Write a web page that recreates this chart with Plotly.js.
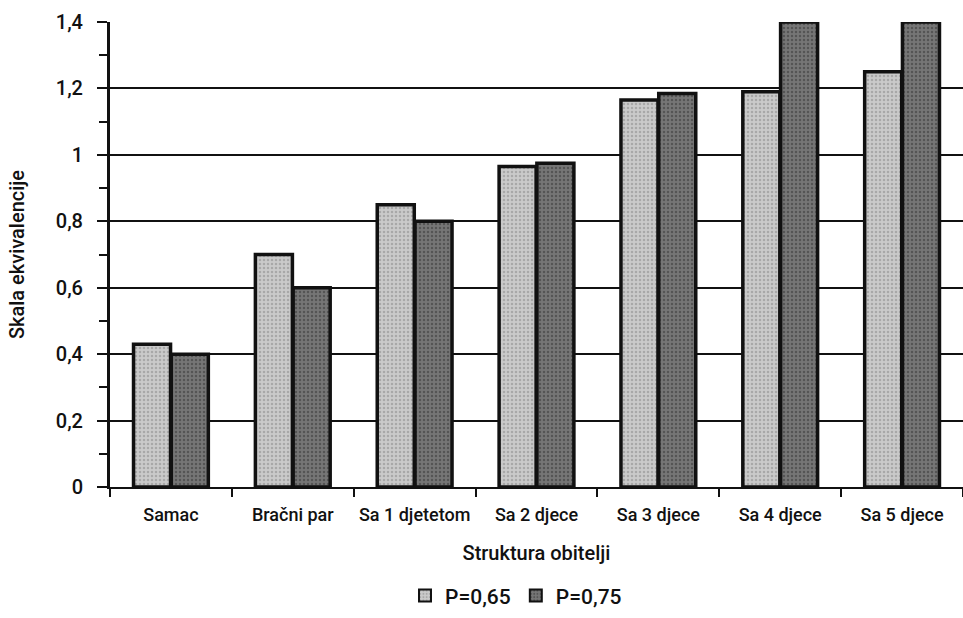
<!DOCTYPE html>
<html>
<head>
<meta charset="utf-8">
<script src="https://cdn.plot.ly/plotly-3.0.1.min.js"></script>
<style>html,body{margin:0;padding:0;background:#fff;}#chart{width:963px;height:618px;}</style>
</head>
<body>
<div id="chart"></div>
<script>
const categories = ["Samac", "Bračni par", "Sa 1 djetetom", "Sa 2 djece", "Sa 3 djece", "Sa 4 djece", "Sa 5 djece"];
const seriesNames = ["P=0,65", "P=0,75"];
const valuesP065 = [0.43, 0.70, 0.85, 0.965, 1.165, 1.19, 1.25];
const valuesP075 = [0.40, 0.60, 0.80, 0.975, 1.185, 1.40, 1.40];
const yTickVals = [0, 0.2, 0.4, 0.6, 0.8, 1, 1.2, 1.4];
const yTickText = ["0", "0,2", "0,4", "0,6", "0,8", "1", "1,2", "1,4"];

const FONT = "Roboto, Liberation Sans, sans-serif";
function f(size) { return {family: FONT, size: size, color: "#111", weight: 500}; }

const traces = [
  {type: "bar", name: seriesNames[0], x: categories, y: valuesP065,
   marker: {color: "#c4c4c4", line: {color: "#111", width: 3.5},
            pattern: {shape: ".", fgcolor: "#a8a8a8", bgcolor: "#cacaca", size: 4, solidity: 0.3}}},
  {type: "bar", name: seriesNames[1], x: categories, y: valuesP075,
   marker: {color: "#6e6e6e", line: {color: "#111", width: 3.5},
            pattern: {shape: ".", fgcolor: "#555", bgcolor: "#767676", size: 4, solidity: 0.3}}}
];

const layout = {
  width: 963, height: 618,
  margin: {l: 110, r: 0, t: 22, b: 131},
  paper_bgcolor: "#fff", plot_bgcolor: "#fff",
  font: f(18),
  barmode: "group", bargap: 0.38, bargroupgap: 0.02,
  showlegend: true,
  legend: {orientation: "h", x: 0.476, xanchor: "center", y: -0.19, yanchor: "top",
           font: f(21), itemsizing: "constant"},
  xaxis: {
    type: "category",
    automargin: false,
    tickangle: 0,
    showline: true, linecolor: "#111", linewidth: 2,
    ticks: "outside", tickson: "boundaries", ticklen: 8, tickwidth: 2, tickcolor: "#111",
    ticklabelstandoff: 10,
    tickfont: f(18),
    showgrid: false,
    title: {text: "Struktura obitelji", font: f(20), standoff: 22}
  },
  yaxis: {
    range: [0, 1.4],
    automargin: false,
    tickvals: yTickVals, ticktext: yTickText,
    showline: true, linecolor: "#111", linewidth: 3,
    ticks: "outside", ticklen: 10, tickwidth: 2, tickcolor: "#111",
    ticklabelstandoff: 10,
    minor: {dtick: 0.1, ticks: "outside", ticklen: 8, tickwidth: 2, tickcolor: "#111", showgrid: false},
    showgrid: true, gridcolor: "#111", gridwidth: 2,
    zeroline: false,
    tickfont: f(20),
    title: {text: "Skala ekvivalencije", font: f(20), standoff: 26}
  }
};

Plotly.newPlot("chart", traces, layout, {staticPlot: true, displayModeBar: false});
</script>
</body>
</html>
